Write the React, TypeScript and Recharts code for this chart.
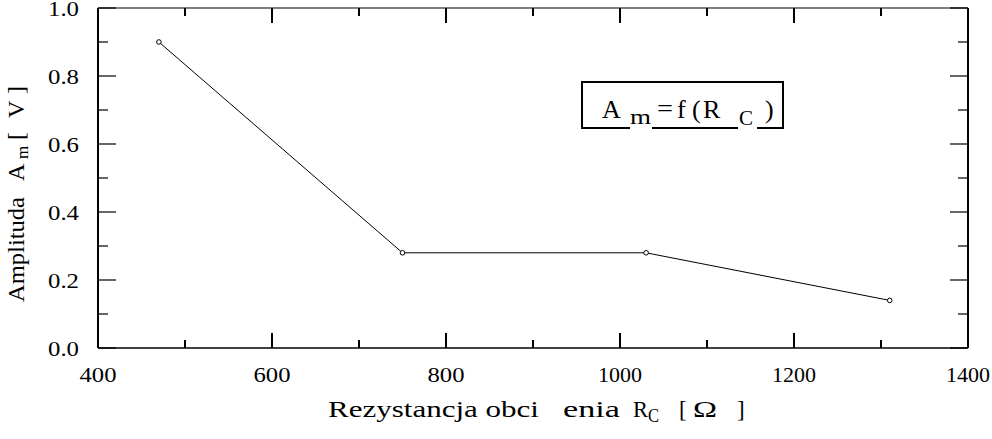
import React from 'react';
import { LineChart, Line, XAxis, YAxis } from 'recharts';

const resistanceOhm = [470, 750, 1030, 1310];
const amplitudeV = [0.9, 0.28, 0.28, 0.14];

const xTicks = [400, 500, 600, 700, 800, 900, 1000, 1100, 1200, 1300, 1400];
const xLabeledTicks = [400, 600, 800, 1000, 1200, 1400];
const yTicks = [0, 0.1, 0.2, 0.3, 0.4, 0.5, 0.6, 0.7, 0.8, 0.9, 1.0];
const yLabeledTicks = [0, 0.2, 0.4, 0.6, 0.8, 1.0];

const xTitle = 'Rezystancja obci';
const xTitle2 = 'enia';
const yTitle = 'Amplituda';

const data = resistanceOhm.map((r, i) => ({ r, a: amplitudeV[i] }));

const FONT = "'Liberation Serif', 'DejaVu Serif', serif";
const has = (arr: number[], v: number) => arr.some((t) => Math.abs(t - v) < 1e-9);
const tStyle = { fontFamily: FONT };

const BottomTick = (props: any) => {
  const { x, y, payload } = props;
  const v = payload.value;
  const major = has(xLabeledTicks, v);
  const label = String(v);
  return (
    <g>
      <line x1={x} x2={x} y1={y} y2={y - (major ? 15 : 8)} stroke="#000" strokeWidth={2} />
      {major && (
        <text x={x} y={y + 34} textAnchor="middle" style={tStyle} fontSize={22} fill="#000"
          textLength={label.length === 3 ? 37 : 44} lengthAdjust="spacingAndGlyphs">{label}</text>
      )}
    </g>
  );
};

const TopTick = (props: any) => {
  const { x, y, payload } = props;
  const major = has(xLabeledTicks, payload.value);
  return <line x1={x} x2={x} y1={y} y2={y + (major ? 15 : 8)} stroke="#000" strokeWidth={2} />;
};

const LeftTick = (props: any) => {
  const { x, y, payload } = props;
  const v = payload.value;
  const major = has(yLabeledTicks, v);
  return (
    <g>
      <line x1={x} x2={x + (major ? 18 : 10)} y1={y} y2={y} stroke="#000" strokeWidth={1.2} />
      {major && (
        <text x={x - 19} y={y + 8} textAnchor="end" style={tStyle} fontSize={21} fill="#000"
          textLength={31} lengthAdjust="spacingAndGlyphs">{v.toFixed(1)}</text>
      )}
    </g>
  );
};

const RightTick = (props: any) => {
  const { x, y, payload } = props;
  const major = has(yLabeledTicks, payload.value);
  return <line x1={x} x2={x - (major ? 18 : 10)} y1={y} y2={y} stroke="#000" strokeWidth={1.2} />;
};

const Marker = (props: any) => {
  const { cx, cy } = props;
  if (cx == null || cy == null) return null;
  return <circle cx={cx} cy={cy} r={2.3} fill="#fff" stroke="#000" strokeWidth={1} />;
};

export default function App() {
  return (
    <div style={{ position: 'absolute', left: 0, top: 0, width: 992, height: 439, background: '#fff', fontFamily: FONT }}>
      <LineChart width={992} height={439} data={data} margin={{ top: 0, right: 0, bottom: 0, left: 0 }}>
        <XAxis xAxisId="b" dataKey="r" type="number" domain={[400, 1400]} ticks={xTicks} allowDataOverflow
          orientation="bottom" height={91} tickSize={0} tickMargin={0} tick={<BottomTick />} tickLine={false}
          axisLine={{ stroke: '#000', strokeWidth: 1.6 }} interval={0} />
        <XAxis xAxisId="t" dataKey="r" type="number" domain={[400, 1400]} ticks={xTicks} allowDataOverflow
          orientation="top" height={8} tickSize={0} tickMargin={0} tick={<TopTick />} tickLine={false}
          axisLine={{ stroke: '#000', strokeWidth: 1.2 }} interval={0} />
        <YAxis yAxisId="l" type="number" domain={[0, 1]} ticks={yTicks} allowDataOverflow
          orientation="left" width={98} tickSize={0} tickMargin={0} tick={<LeftTick />} tickLine={false}
          axisLine={{ stroke: '#000', strokeWidth: 2 }} interval={0} />
        <YAxis yAxisId="rt" type="number" domain={[0, 1]} ticks={yTicks} allowDataOverflow
          orientation="right" width={24} tickSize={0} tickMargin={0} tick={<RightTick />} tickLine={false}
          axisLine={{ stroke: '#000', strokeWidth: 2 }} interval={0} />
        <Line xAxisId="b" yAxisId="l" type="linear" dataKey="a" stroke="#000" strokeWidth={1}
          dot={<Marker />} activeDot={false} isAnimationActive={false} />
      </LineChart>
      <svg width={992} height={439} style={{ position: 'absolute', left: 0, top: 0, pointerEvents: 'none', fontFamily: FONT }}
        fill="#000">
        {/* x axis title */}
        <text x={328} y={417} fontSize={23} textLength={211} lengthAdjust="spacingAndGlyphs">{xTitle}</text>
        <text x={563} y={417} fontSize={23} textLength={57} lengthAdjust="spacingAndGlyphs">{xTitle2}</text>
        <text x={633} y={417} fontSize={23} textLength={15} lengthAdjust="spacingAndGlyphs">R</text>
        <text x={648} y={422} fontSize={18} textLength={11} lengthAdjust="spacingAndGlyphs">C</text>
        <text x={679} y={417} fontSize={23}>[</text>
        <text x={693} y={417} fontSize={23} textLength={24} lengthAdjust="spacingAndGlyphs">Ω</text>
        <text x={737} y={417} fontSize={23}>]</text>
        {/* y axis title */}
        <text transform="translate(24,302) rotate(-90)" fontSize={24} textLength={105} lengthAdjust="spacingAndGlyphs">{yTitle}</text>
        <text transform="translate(24,181) rotate(-90)" fontSize={24}>A</text>
        <text transform="translate(28,159) rotate(-90)" fontSize={17}>m</text>
        <text transform="translate(24,140) rotate(-90)" fontSize={24}>[</text>
        <text transform="translate(24,118) rotate(-90)" fontSize={24}>V</text>
        <text transform="translate(24,94) rotate(-90)" fontSize={24}>]</text>
        {/* legend box */}
        <g stroke="#000" strokeWidth={2}>
          <line x1={582} x2={783} y1={82} y2={82} />
          <line x1={582} x2={582} y1={81} y2={129} />
          <line x1={783} x2={783} y1={81} y2={129} />
          <line x1={581} x2={630} y1={128} y2={128} />
          <line x1={652} x2={738} y1={128} y2={128} />
          <line x1={757} x2={784} y1={128} y2={128} />
        </g>
        <text x={602} y={118} fontSize={26}>A</text>
        <text x={630} y={124} fontSize={20} textLength={21} lengthAdjust="spacingAndGlyphs">m</text>
        <text x={657} y={117} fontSize={26} textLength={16} lengthAdjust="spacingAndGlyphs">=</text>
        <text x={677} y={118} fontSize={26}>f</text>
        <text x={692} y={118} fontSize={26}>(</text>
        <text x={703} y={118} fontSize={26}>R</text>
        <text x={739} y={125} fontSize={21}>C</text>
        <text x={765} y={118} fontSize={26}>)</text>
      </svg>
    </div>
  );
}
